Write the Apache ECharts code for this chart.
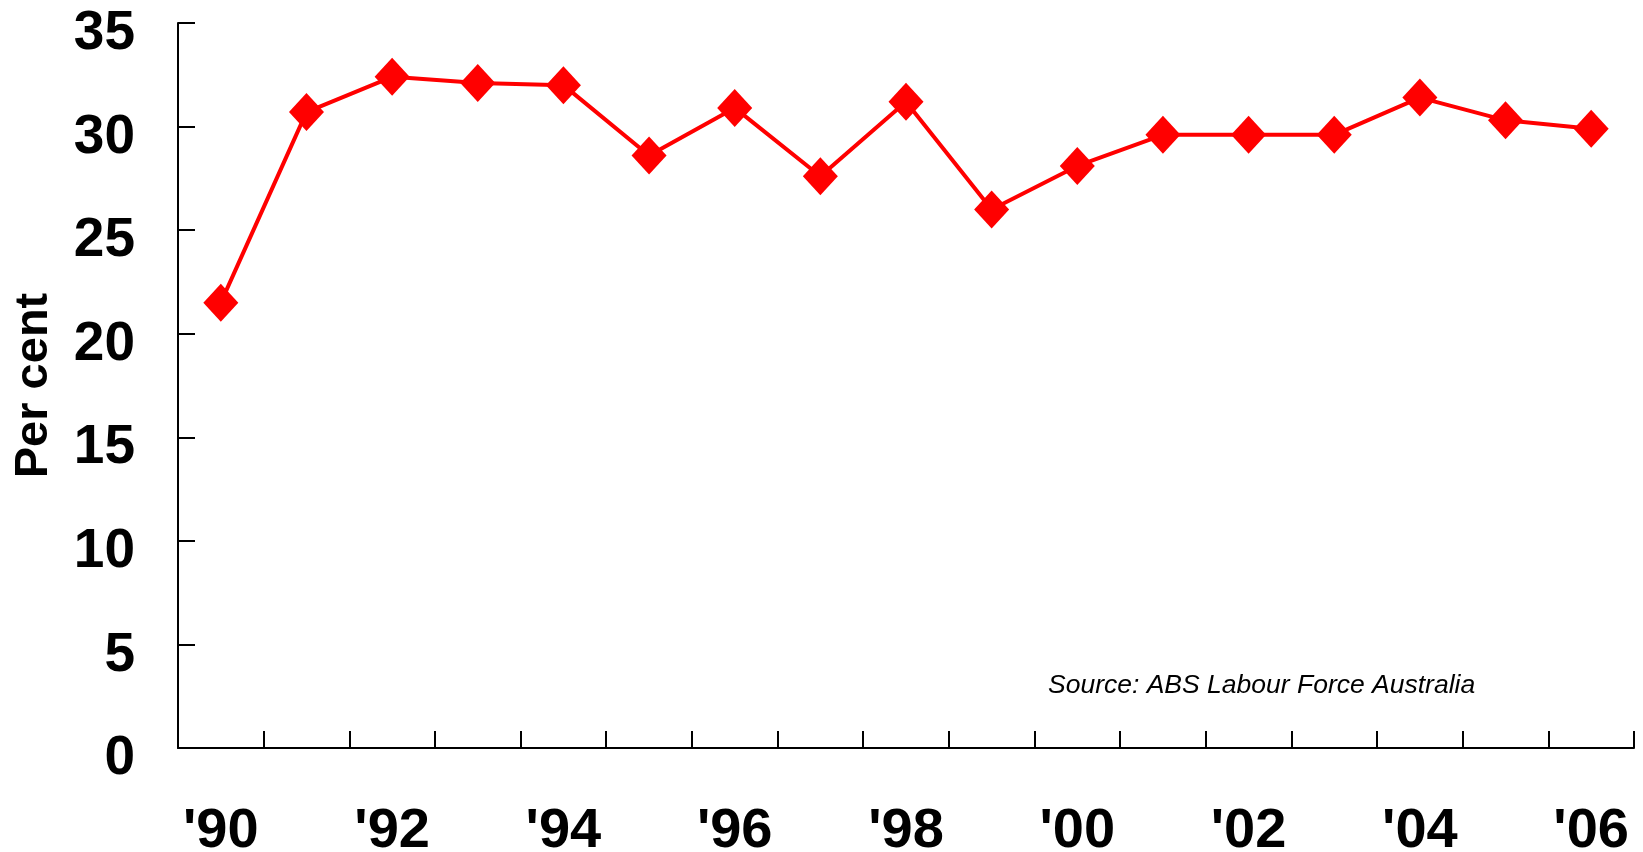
<!DOCTYPE html>
<html>
<head>
<meta charset="utf-8">
<script src="https://cdn.jsdelivr.net/npm/echarts@6/dist/echarts.min.js"></script>
<style>
html,body{margin:0;padding:0;background:#fff;}
#chart{width:1643px;height:852px;}
</style>
</head>
<body>
<div id="chart"></div>
<script>
const years = ['1990','1991','1992','1993','1994','1995','1996','1997','1998','1999','2000','2001','2002','2003','2004','2005','2006'];
const yearLabels = ["'90","'91","'92","'93","'94","'95","'96","'97","'98","'99","'00","'01","'02","'03","'04","'05","'06"];
const values = [21.5, 30.7, 32.4, 32.1, 32.0, 28.6, 30.9, 27.6, 31.2, 26.0, 28.1, 29.6, 29.6, 29.6, 31.4, 30.3, 29.9];
const yAxisName = 'Per cent';
const sourceNote = 'Source: ABS Labour Force Australia';

const labelFont = '"Liberation Sans", Arial, sans-serif';
const chart = echarts.init(document.getElementById('chart'));
chart.setOption({
  animation: false,
  backgroundColor: '#ffffff',
  grid: {left: 178, right: 9, top: 23, bottom: 104, containLabel: false, outerBoundsMode: 'none'},
  xAxis: {
    type: 'category',
    data: yearLabels,
    boundaryGap: true,
    axisLine: {lineStyle: {color: '#000', width: 2}},
    axisTick: {show: true, inside: true, length: 17, alignWithLabel: false, interval: 0, lineStyle: {color: '#000', width: 2}},
    axisLabel: {interval: 1, margin: 56, fontFamily: labelFont, fontWeight: 'bold', fontSize: 56, color: '#000'},
    splitLine: {show: false}
  },
  yAxis: {
    type: 'value',
    min: 0, max: 35, interval: 5,
    name: yAxisName,
    nameLocation: 'middle',
    nameRotate: 90,
    nameGap: 120,
    nameTextStyle: {fontFamily: labelFont, fontWeight: 'bold', fontSize: 47, color: '#000'},
    axisLine: {show: true, lineStyle: {color: '#000', width: 2}},
    axisTick: {show: true, inside: true, length: 17, lineStyle: {color: '#000', width: 2}},
    axisLabel: {margin: 43, fontFamily: labelFont, fontWeight: 'bold', fontSize: 55, color: '#000', verticalAlign: 'top', lineHeight: 22},
    splitLine: {show: false}
  },
  graphic: [{
    type: 'text',
    left: 1048,
    top: 672,
    style: {text: sourceNote, font: 'italic 26.5px "Liberation Sans"', fill: '#000'}
  }],
  series: [{
    type: 'line',
    data: values,
    symbol: 'diamond',
    symbolSize: [35, 38],
    itemStyle: {color: '#ff0000'},
    lineStyle: {color: '#ff0000', width: 4},
    z: 3
  }]
});
</script>
</body>
</html>
